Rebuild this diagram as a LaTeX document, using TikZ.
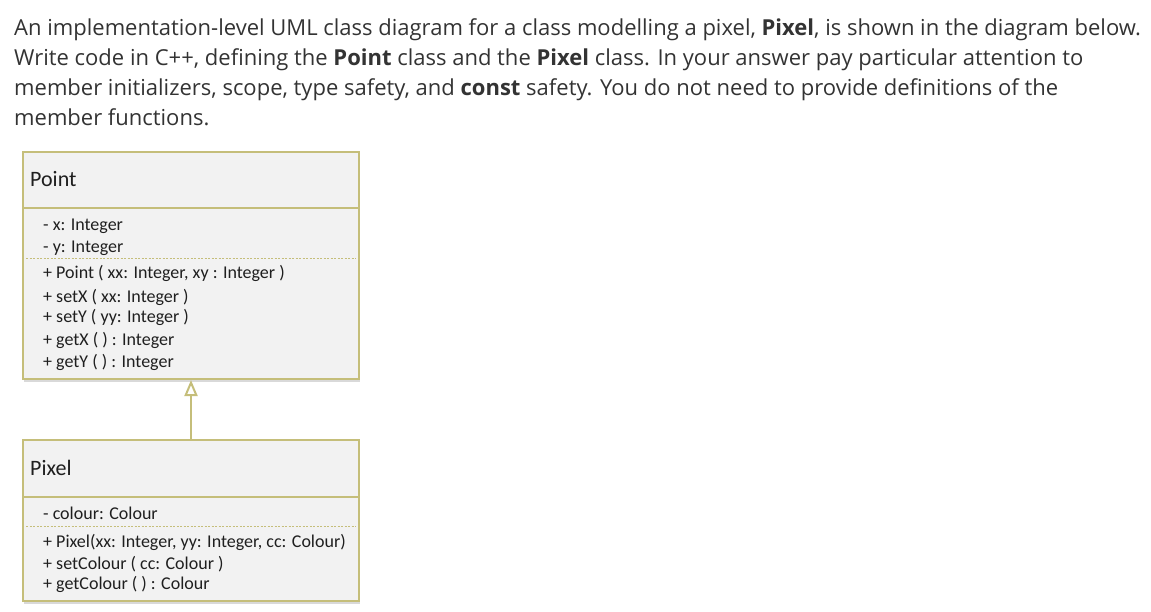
\documentclass[tikz,border=0pt]{standalone}
\usepackage{fontspec}
\setmainfont{Open Sans}
\newfontfamily\umlfont{Carlito}
\usetikzlibrary{arrows.meta,shadows}
\definecolor{umlline}{RGB}{197,190,122}
\definecolor{umlfill}{RGB}{242,242,242}
\definecolor{paratext}{RGB}{51,51,51}
\tikzset{
  umlbox/.style={draw=umlline, line width=2pt, fill=umlfill, anchor=north west, inner sep=0pt,
    minimum width=336pt, drop shadow={opacity=0.3, shadow xshift=1pt, shadow yshift=-3pt}},
  classname/.style={anchor=base west, inner sep=0pt, text=black!88, font=\umlfont\fontsize{22}{22}\selectfont},
  member/.style={anchor=base west, inner sep=0pt, text=black!88, font=\umlfont\fontsize{18}{18}\selectfont},
  para/.style={anchor=base west, inner sep=0pt, text=paratext, font=\fontsize{22}{22}\selectfont},
  divider/.style={umlline, line width=2pt},
  opdivider/.style={umlline, line width=1pt, dash pattern=on 2pt off 1.5pt}
}

\begin{document}
\begin{tikzpicture}[x=1pt,y=-1pt]
    \useasboundingbox (0,0) rectangle (1151,612);
    % question text
    \node[para] (L1) at (14,36) {An implementation-level UML class diagram for a class modelling a pixel, \textbf{Pixel}, is shown in the diagram below.};
    \node[para] (L2) at (14,66) {Write code in C++, defining the \textbf{Point} class and the \textbf{Pixel} class. In your answer pay particular attention to};
    \node[para] (L3) at (14,96) {member initializers, scope, type safety, and \textbf{const} safety. You do not need to provide definitions of the};
    \node[para] (L4) at (14,126) {member functions.};

    % class Point
    \node[umlbox, minimum height=227pt] (Point) at (22,151) {};
    \draw[divider] ([yshift=-57pt]Point.north west) -- ([yshift=-57pt]Point.north east);
    \draw[opdivider] ([xshift=4pt,yshift=-108pt]Point.north west) -- ([xshift=-4pt,yshift=-108pt]Point.north east);
    \node[classname] (PointName) at (30,187) {Point};
    \node[member] (PointX) at (43,231) {- x: Integer};
    \node[member] (PointY) at (43,253) {- y: Integer};
    \node[member] (PointCtor) at (43,279) {+ Point ( xx: Integer, xy : Integer )};
    \node[member] (PointSetX) at (43,302) {+ setX ( xx: Integer )};
    \node[member] (PointSetY) at (43,323) {+ setY ( yy: Integer )};
    \node[member] (PointGetX) at (43,345) {+ getX ( ) : Integer};
    \node[member] (PointGetY) at (43,367) {+ getY ( ) : Integer};

    % class Pixel
    \node[umlbox, minimum height=161pt] (Pixel) at (22,439) {};
    \draw[divider] ([yshift=-58pt]Pixel.north west) -- ([yshift=-58pt]Pixel.north east);
    \draw[opdivider] ([xshift=4pt,yshift=-87pt]Pixel.north west) -- ([xshift=-4pt,yshift=-87pt]Pixel.north east);
    \node[classname] (PixelName) at (30,475) {Pixel};
    \node[member] (PixelColour) at (43,519) {- colour: Colour};
    \node[member] (PixelCtor) at (43,547) {+ Pixel(xx: Integer, yy: Integer, cc: Colour)};
    \node[member] (PixelSet) at (43,569) {+ setColour ( cc: Colour )};
    \node[member] (PixelGet) at (43,589) {+ getColour ( ) : Colour};

    % generalisation
    \draw[umlline, line width=2pt, -{Triangle[open, length=16pt, width=13pt, line width=2pt]}] (Pixel.north) -- (Point.south);
\end{tikzpicture}
\end{document}
